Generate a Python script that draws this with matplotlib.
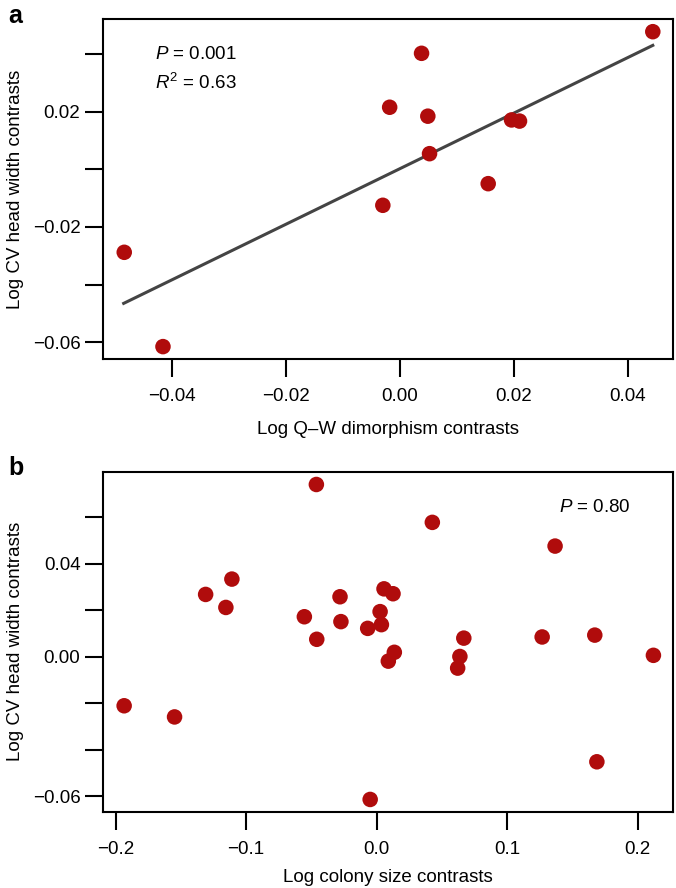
import numpy as np
import matplotlib
matplotlib.use('Agg')
import matplotlib.pyplot as plt

plt.rcParams['font.family'] = ['Liberation Sans', 'DejaVu Sans']
plt.rcParams['mathtext.fontset'] = 'custom'
plt.rcParams['mathtext.it'] = 'Liberation Sans:italic'
plt.rcParams['mathtext.rm'] = 'Liberation Sans'

# panel a: Q-W dimorphism vs CV head width
dimorph = [0.0444, 0.0038, -0.0018, 0.0049, 0.0196, 0.0210, 0.0052,
           0.0155, -0.0030, -0.0484, -0.0416]
cv_a = [0.0477, 0.0402, 0.0215, 0.0184, 0.0171, 0.0167, 0.0054,
        -0.0050, -0.0125, -0.0288, -0.0615]
fit_slope = 0.963
fit_intercept = 0.0002

# panel b: colony size vs CV head width
colony = [-0.0462, 0.0426, 0.1366, -0.1109, -0.1310, -0.1155, -0.0281,
          0.0056, 0.0125, -0.0554, -0.0274, 0.0026, 0.0036, -0.0069,
          -0.0459, 0.0667, 0.1267, 0.1670, 0.0135, 0.0089, 0.0637,
          0.0620, 0.2119, -0.1934, -0.1548, 0.1686, -0.0050]
cv_b = [0.0741, 0.0578, 0.0476, 0.0334, 0.0268, 0.0212, 0.0258,
        0.0292, 0.0271, 0.0172, 0.0151, 0.0194, 0.0138, 0.0122,
        0.0075, 0.0080, 0.0085, 0.0093, 0.0019, -0.0019, 0.0001,
        -0.0049, 0.0006, -0.0211, -0.0259, -0.0452, -0.0614]

a_xticks = [-0.04, -0.02, 0.00, 0.02, 0.04]
a_xlabels = ['\u22120.04', '\u22120.02', '0.00', '0.02', '0.04']
a_yticks = [0.04, 0.02, 0.00, -0.02, -0.04, -0.06]
a_ylabels = ['', '0.02', '', '\u22120.02', '', '\u22120.06']
b_xticks = [-0.2, -0.1, 0.0, 0.1, 0.2]
b_xlabels = ['\u22120.2', '\u22120.1', '0.0', '0.1', '0.2']
b_yticks = [0.06, 0.04, 0.02, 0.00, -0.02, -0.04, -0.06]
b_ylabels = ['', '0.04', '', '0.00', '', '', '\u22120.06']

red = '#b00c0c'
fs = 13.5
W, H = 676, 888
fig = plt.figure(figsize=(W / 100, H / 100), dpi=100)


def style(ax):
    for s in ax.spines.values():
        s.set_linewidth(1.5)
    ax.tick_params(direction='out', length=13, width=1.5, labelsize=fs)
    ax.tick_params(axis='x', pad=8)
    ax.tick_params(axis='y', pad=3)


axa = fig.add_axes([102.6 / W, 1 - 359.3 / H, 570.7 / W, 340.3 / H])
xs = np.array([-0.0485, 0.0444])
axa.plot(xs, fit_slope * xs + fit_intercept, color='#444444', lw=2.2, zorder=2)
axa.scatter(dimorph, cv_a, s=125, color=red, edgecolors='none', zorder=3)
axa.set_xlim(-0.0522, 0.0480)
axa.set_ylim(-0.0659, 0.0521)
axa.set_xticks(a_xticks, a_xlabels)
axa.set_yticks(a_yticks, a_ylabels)
style(axa)
axa.set_xlabel('Log Q\u2013W dimorphism contrasts', fontsize=fs, labelpad=11)
axa.set_ylabel('Log CV head width contrasts', fontsize=fs, labelpad=6)
axa.text(0.092, 0.895, '$P$ = 0.001', transform=axa.transAxes, fontsize=fs,
         va='center')
axa.text(0.092, 0.812, '$R^2$ = 0.63', transform=axa.transAxes, fontsize=fs,
         va='center')

axb = fig.add_axes([102.6 / W, 1 - 812 / H, 570.4 / W, 340.3 / H])
axb.scatter(colony, cv_b, s=125, color=red, edgecolors='none', zorder=3)
axb.set_xlim(-0.2099, 0.2269)
axb.set_ylim(-0.0668, 0.0796)
axb.set_xticks(b_xticks, b_xlabels)
axb.set_yticks(b_yticks, b_ylabels)
style(axb)
axb.set_xlabel('Log colony size contrasts', fontsize=fs, labelpad=8)
axb.set_ylabel('Log CV head width contrasts', fontsize=fs, labelpad=6)
axb.text(0.80, 0.895, '$P$ = 0.80', transform=axb.transAxes, fontsize=fs,
         va='center')

fig.text(8 / W, 1 - 16 / H, 'a', fontsize=18, fontweight='bold', va='center')
fig.text(8 / W, 1 - 468 / H, 'b', fontsize=18, fontweight='bold', va='center')

fig.savefig('out.png', dpi=100)
